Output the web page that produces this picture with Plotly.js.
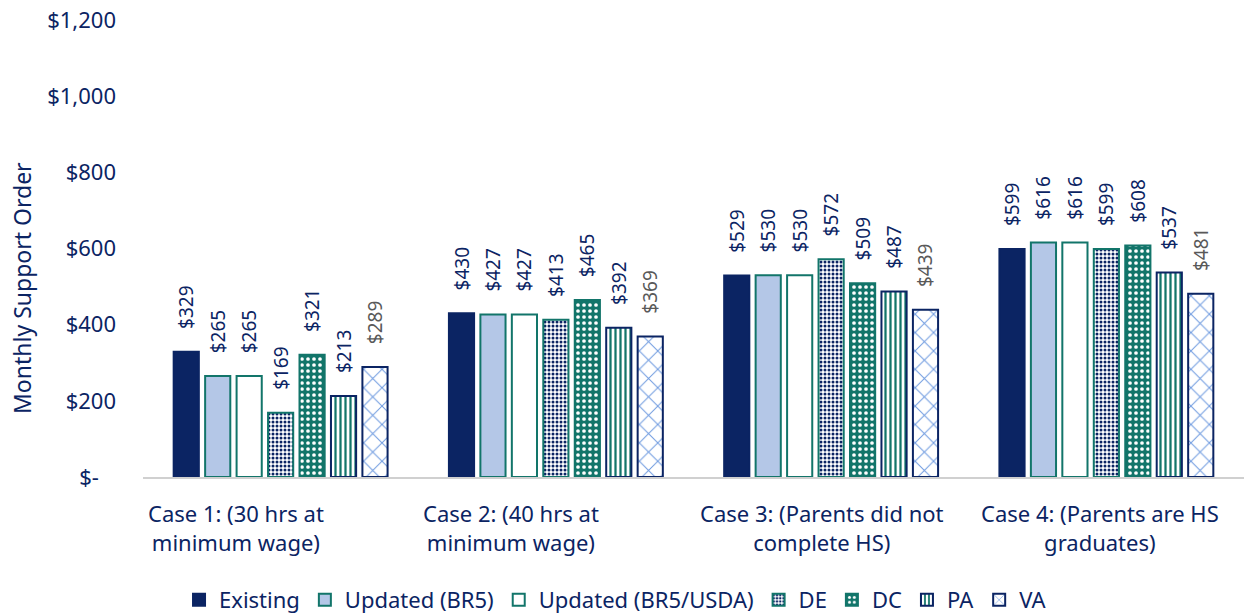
<!DOCTYPE html>
<html>
<head>
<meta charset="utf-8">
<script src="https://cdn.plot.ly/plotly-3.0.1.min.js"></script>
<style>html,body{margin:0;padding:0;background:#fff;}#chart{width:1246px;height:614px;}</style>
</head>
<body>
<div id="chart"></div>
<script>
const categories = ["Case 1: (30 hrs at<br>minimum wage)", "Case 2: (40 hrs at<br>minimum wage)", "Case 3: (Parents did not<br>complete HS)", "Case 4: (Parents are HS<br>graduates)"];
const seriesNames = ["Existing", "Updated (BR5)", "Updated (BR5/USDA)", "DE", "DC", "PA", "VA"];
const existing = [329, 430, 529, 599];
const updatedBR5 = [265, 427, 530, 616];
const updatedBR5USDA = [265, 427, 530, 616];
const de = [169, 413, 572, 599];
const dc = [321, 465, 509, 608];
const pa = [213, 392, 487, 537];
const va = [289, 369, 439, 481];
const yTickVals = [0, 200, 400, 600, 800, 1000, 1200];
const yTickText = ["$-\u00a0\u00a0\u00a0", "$200", "$400", "$600", "$800", "$1,000", "$1,200"];
const yTitle = "Monthly Support Order";

const NAVY = "#0b2463";
const TEAL = "#12756a";
const LBLUE = "#b4c7e7";
const FONT = "Noto Sans, sans-serif";

const styles = [
  {color: NAVY, line: NAVY},
  {color: LBLUE, line: TEAL},
  {color: "#ffffff", line: TEAL},
  {color: "#ffffff", line: TEAL, pattern: {shape: ".", fgcolor: NAVY, bgcolor: "#ffffff", size: 4, solidity: 0.45}},
  {color: TEAL, line: TEAL, pattern: {shape: ".", fgcolor: "#ffffff", bgcolor: TEAL, size: 6, solidity: 0.3}},
  {color: "#ffffff", line: NAVY, pattern: {shape: "|", fgcolor: TEAL, bgcolor: "#ffffff", size: 5, solidity: 0.45}},
  {color: "#ffffff", line: NAVY, pattern: {shape: "x", fgcolor: "#6f9be0", bgcolor: "#ffffff", size: 13, solidity: 0.15}}
];
const labelColors = [NAVY, NAVY, NAVY, NAVY, NAVY, NAVY, "#595959"];
const allSeries = [existing, updatedBR5, updatedBR5USDA, de, dc, pa, va];

const data = allSeries.map((vals, i) => {
  const s = styles[i];
  const marker = {color: s.color, line: {color: s.line, width: 2}};
  if (s.pattern) marker.pattern = s.pattern;
  return {
    type: "bar",
    name: seriesNames[i],
    x: categories,
    y: vals,
    marker: marker,
    text: vals.map(v => "\u00a0\u00a0\u00a0\u00a0$" + v),
    textposition: "outside",
    textangle: -90,
    constraintext: "none",
    cliponaxis: false,
    textfont: {family: FONT, size: 19, color: labelColors[i]},
    hoverinfo: "none"
  };
});

const W = 1246, H = 614, ML = 143, MR = 2, MT = 20, MB = 137;
const plotW = W - ML - MR, plotH = H - MT - MB;
const catLabelShift = [-45, -45, -9, -6];

const annotations = categories.map((c, i) => ({
  text: c,
  xref: "x", yref: "paper",
  x: c, y: 0,
  xanchor: "center", yanchor: "top",
  xshift: catLabelShift[i], yshift: -19,
  align: "center",
  showarrow: false,
  font: {family: FONT, size: 22, color: NAVY}
}));
annotations.push({
  text: yTitle,
  xref: "paper", yref: "paper",
  x: (22 - ML) / plotW, y: (H - MB - 288) / plotH,
  xanchor: "center", yanchor: "middle",
  textangle: -90,
  showarrow: false,
  font: {family: FONT, size: 23, color: NAVY}
});

const layout = {
  width: W,
  height: H,
  margin: {l: ML, r: MR, t: MT, b: MB},
  barmode: "group",
  bargap: 0.2,
  bargroupgap: 0.2,
  paper_bgcolor: "#ffffff",
  plot_bgcolor: "#ffffff",
  font: {family: FONT, color: NAVY},
  showlegend: true,
  legend: {
    orientation: "h",
    x: 0.494, xanchor: "center", xref: "container",
    y: 1 - 600 / H, yanchor: "middle", yref: "container",
    font: {family: FONT, size: 22, color: NAVY},
    traceorder: "normal"
  },
  xaxis: {
    showticklabels: false,
    showline: true,
    linecolor: "#d0d0d0",
    linewidth: 2,
    ticks: "",
    showgrid: false,
    fixedrange: true,
    automargin: false
  },
  yaxis: {
    range: [0, 1200],
    tickvals: yTickVals,
    ticktext: yTickText,
    tickfont: {family: FONT, size: 22, color: NAVY},
    showgrid: false,
    zeroline: false,
    showline: false,
    ticks: "",
    ticklabelstandoff: 26,
    fixedrange: true,
    automargin: false
  },
  annotations: annotations
};

Plotly.newPlot("chart", data, layout, {displayModeBar: false, staticPlot: true});
</script>
</body>
</html>
